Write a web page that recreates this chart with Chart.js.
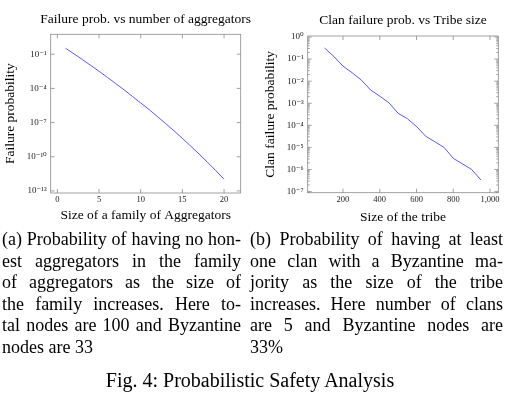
<!DOCTYPE html>
<html>
<head>
<meta charset="utf-8">
<script src="https://cdn.jsdelivr.net/npm/chart.js@4.4.1/dist/chart.umd.min.js"></script>
<style>
    body { margin: 0; background: #fff; width: 511px; height: 395px; overflow: hidden; position: relative;
           font-family: "Liberation Serif", "DejaVu Serif", serif; color: #000; }
    #famChart { position: absolute; left: 0; top: 0; }
    #tribeChart { position: absolute; left: 255px; top: 0; }
    .cap { position: absolute; top: 229px; font-size: 18px; line-height: 21.5px; }
    .cap div { text-align: justify; text-align-last: justify; white-space: nowrap; }
    .cap div.last { text-align-last: left; }
    #capA { left: 2px; width: 239px; }
    #capB { left: 250px; width: 253px; }
    #fig { position: absolute; left: 0; width: 500px; top: 368px; line-height: 24px; text-align: center; font-size: 20px; }
</style>
</head>
<body>
<canvas id="famChart" width="255" height="230"></canvas>
<canvas id="tribeChart" width="256" height="230"></canvas>

<div class="cap" id="capA">
    <div>(a) Probability of having no hon-</div>
    <div>est aggregators in the family</div>
    <div>of aggregators as the size of</div>
    <div>the family increases. Here to-</div>
    <div>tal nodes are 100 and Byzantine</div>
    <div class="last">nodes are 33</div>
</div>
<div class="cap" id="capB">
    <div>(b) Probability of having at least</div>
    <div>one clan with a Byzantine ma-</div>
    <div>jority as the size of the tribe</div>
    <div>increases. Here number of clans</div>
    <div>are 5 and Byzantine nodes are</div>
    <div class="last">33%</div>
</div>
<div id="fig">Fig. 4: Probabilistic Safety Analysis</div>

<script>
// (a) розмір сім'ї агрегаторів -> ймовірність відмови
const famSize = [1, 2, 3, 4, 5, 6, 7, 8, 9, 10, 11, 12, 13, 14, 15, 16, 17, 18, 19, 20];
const famFail = [0.33, 0.107, 0.034, 0.0104, 3.2e-3, 9.3e-4, 2.7e-4, 7.5e-5, 2.0e-5, 5.3e-6,
                 1.4e-6, 3.4e-7, 8.1e-8, 1.9e-8, 4.1e-9, 8.7e-10, 1.75e-10, 3.4e-11, 6.2e-12, 1.07e-12];
const famXTicks = [0, 5, 10, 15, 20];
const famYTicks = [1e-13, 1e-10, 1e-7, 1e-4, 1e-1];

// (b) розмір племені -> ймовірність відмови клану
const tribeSize = [100, 150, 200, 250, 300, 350, 400, 450, 500, 550, 600, 650, 700, 750, 800, 850, 900, 950];
const clanFail = [0.316, 0.132, 0.048, 0.024, 0.0112, 0.0040, 0.0021, 0.00105, 3.5e-4,
                  2.0e-4, 8.9e-5, 3.2e-5, 1.8e-5, 1.0e-5, 3.2e-6, 1.8e-6, 1.0e-6, 3.4e-7];
const tribeXTicks = [200, 400, 600, 800, 1000];
const tribeYTicks = [1e-7, 1e-6, 1e-5, 1e-4, 1e-3, 1e-2, 1e-1, 1];

const SERIF = '"Liberation Serif", "DejaVu Serif", serif';
Chart.defaults.font.family = SERIF;
Chart.defaults.color = '#000';

const SUP = {'-': '\u207B', '0': '\u2070', '1': '\u00B9', '2': '\u00B2', '3': '\u00B3', '4': '\u2074',
             '5': '\u2075', '6': '\u2076', '7': '\u2077', '8': '\u2078', '9': '\u2079'};

function powLabel(v) {
    const e = String(Math.round(Math.log10(v)));
    return '10' + e.split('').map(c => SUP[c]).join('');
}

// заголовок над областю графіка (без стиснення тексту по ширині)
const areaTitlePlugin = {
    id: 'areaTitle',
    afterDraw(chart, args, opts) {
        const ctx = chart.ctx;
        const a = chart.chartArea;
        ctx.save();
        ctx.font = '13.5px ' + SERIF;
        ctx.fillStyle = '#000';
        ctx.textAlign = 'center';
        ctx.textBaseline = 'middle';
        ctx.fillText(opts.text, (a.left + a.right) / 2, opts.y);
        ctx.restore();
    }
};

// рамка і внутрішні поділки як у pgfplots
const framePlugin = {
    id: 'frame',
    afterDraw(chart, args, opts) {
        const ctx = chart.ctx;
        const a = chart.chartArea;
        const xs = chart.scales.x;
        const ys = chart.scales.y;
        ctx.save();
        ctx.strokeStyle = '#8a8a8a';
        ctx.lineWidth = 0.8;
        ctx.strokeRect(a.left, a.top, a.right - a.left, a.bottom - a.top);
        ctx.beginPath();
        xs.ticks.forEach(t => {
            const px = xs.getPixelForValue(t.value);
            ctx.moveTo(px, a.bottom); ctx.lineTo(px, a.bottom - 4);
            ctx.moveTo(px, a.top); ctx.lineTo(px, a.top + 4);
        });
        ys.ticks.forEach(t => {
            const py = ys.getPixelForValue(t.value);
            ctx.moveTo(a.left, py); ctx.lineTo(a.left + 4, py);
            ctx.moveTo(a.right, py); ctx.lineTo(a.right - 4, py);
        });
        if (opts.minor) {
            for (let k = -8; k <= 0; k++) {
                for (let m = 2; m <= 9; m++) {
                    const v = m * Math.pow(10, k);
                    if (v < ys.min || v > ys.max) continue;
                    const py = ys.getPixelForValue(v);
                    ctx.moveTo(a.left, py); ctx.lineTo(a.left + 2, py);
                    ctx.moveTo(a.right, py); ctx.lineTo(a.right - 2, py);
                }
            }
        }
        ctx.stroke();
        ctx.restore();
    }
};

function makeChart(id, cfg) {
    const ctx = document.getElementById(id).getContext('2d');
    return new Chart(ctx, {
        type: 'line',
        data: {
            datasets: [{
                data: cfg.xs.map((x, i) => ({x: x, y: cfg.ys[i]})),
                borderColor: '#4646ff',
                borderWidth: 0.9,
                pointRadius: 0,
                tension: 0
            }]
        },
        options: {
            responsive: false,
            animation: false,
            devicePixelRatio: 1,
            layout: {padding: {left: 0, right: cfg.padRight, top: cfg.padTop, bottom: 0}},
            plugins: {
                legend: {display: false},
                tooltip: {enabled: false},
                title: {display: false},
                areaTitle: {text: cfg.title, y: cfg.titleY},
                frame: {minor: cfg.minor}
            },
            scales: {
                x: {
                    type: 'linear',
                    min: cfg.xMin,
                    max: cfg.xMax,
                    grid: {display: false, drawTicks: false},
                    border: {display: false},
                    afterBuildTicks: s => { s.ticks = cfg.xTicks.map(v => ({value: v})); },
                    ticks: {
                        font: {size: 8.5},
                        color: '#222',
                        padding: 2,
                        maxRotation: 0,
                        autoSkip: false,
                        callback: v => v.toLocaleString('en-US')
                    },
                    title: {
                        display: true,
                        text: cfg.xTitle,
                        font: {size: 13.5},
                        padding: {top: 0, bottom: cfg.xTitleBottom}
                    },
                    afterFit: s => { s.height = cfg.xHeight; s.paddingLeft = 0; s.paddingRight = 0; }
                },
                y: {
                    type: 'logarithmic',
                    min: cfg.yMin,
                    max: cfg.yMax,
                    grid: {display: false, drawTicks: false},
                    border: {display: false},
                    afterBuildTicks: s => { s.ticks = cfg.yTicks.map(v => ({value: v})); },
                    ticks: {
                        font: {size: 9},
                        color: '#222',
                        padding: 4,
                        autoSkip: false,
                        callback: v => powLabel(v)
                    },
                    title: {
                        display: true,
                        text: cfg.yTitle,
                        font: {size: 13.5},
                        padding: {top: cfg.yTitleTop, bottom: 0}
                    },
                    afterFit: s => { s.width = cfg.yWidth; s.paddingTop = 0; s.paddingBottom = 0; }
                }
            }
        },
        plugins: [areaTitlePlugin, framePlugin]
    });
}

makeChart('famChart', {
    xs: famSize, ys: famFail,
    xTicks: famXTicks, yTicks: famYTicks,
    xMin: -0.8, xMax: 22, yMin: 6.6e-14, yMax: 5.6,
    title: 'Failure prob. vs number of aggregators',
    xTitle: 'Size of a family of Aggregators',
    yTitle: 'Failure probability',
    padTop: 34.3, titleY: 19,
    xHeight: 37, yWidth: 50.7, padRight: 14.3,
    xTitleBottom: 6.9, yTitleTop: 1.9,
    minor: false
});

makeChart('tribeChart', {
    xs: tribeSize, ys: clanFail,
    xTicks: tribeXTicks, yTicks: tribeYTicks,
    xMin: 8, xMax: 1045, yMin: 8.9e-8, yMax: 1.11,
    title: 'Clan failure prob. vs Tribe size',
    xTitle: 'Size of the tribe',
    yTitle: 'Clan failure probability',
    padTop: 36, titleY: 20,
    xHeight: 37.3, yWidth: 52.7, padRight: 12.7,
    xTitleBottom: 4.6, yTitleTop: 6.9,
    minor: true
});
</script>
</body>
</html>
